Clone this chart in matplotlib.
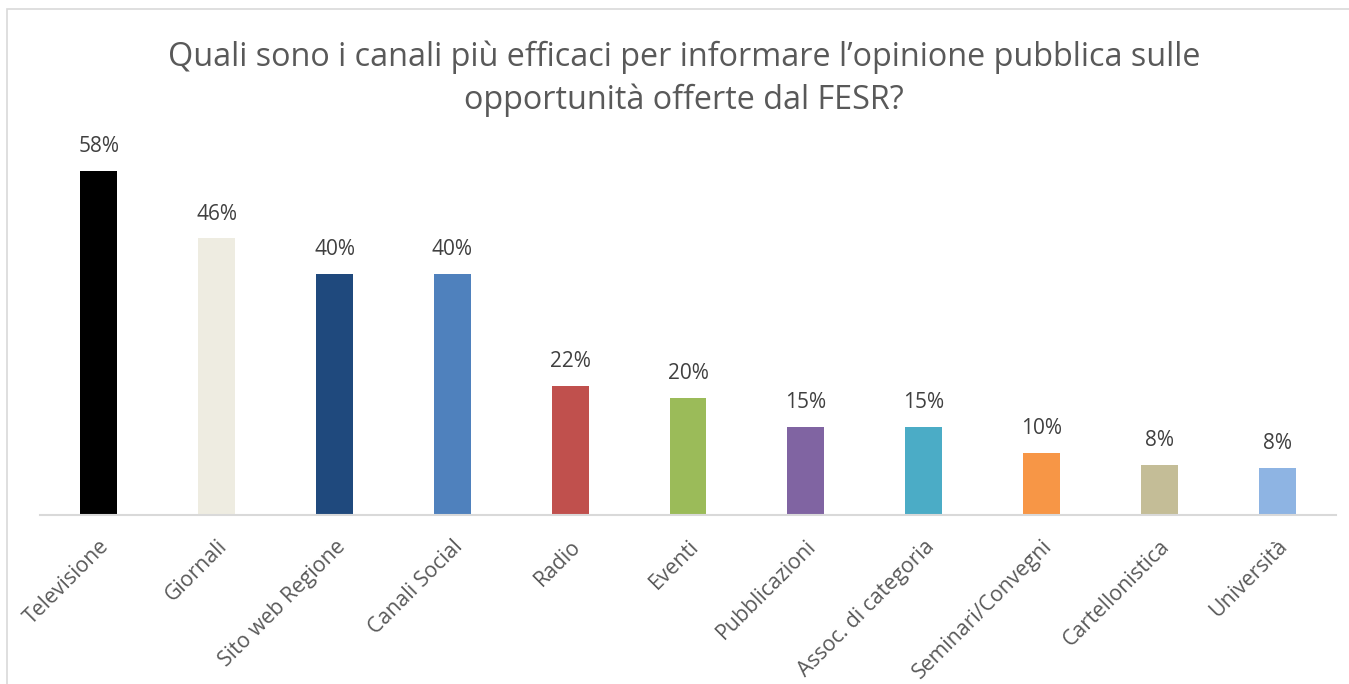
import matplotlib
matplotlib.use("Agg")
import matplotlib.pyplot as plt
from matplotlib.patches import Rectangle

categories = ["Televisione", "Giornali", "Sito web Regione", "Canali Social", "Radio",
              "Eventi", "Pubblicazioni", "Assoc. di categoria", "Seminari/Convegni",
              "Cartellonistica", "Università"]
values = [57.7, 46.4, 40.4, 40.4, 21.6, 19.7, 14.8, 14.8, 10.4, 8.4, 7.9]
colors = ["#000000", "#EEECE1", "#1F497D", "#4F81BD", "#C0504D", "#9BBB59",
          "#8064A2", "#4BACC6", "#F79646", "#C4BD97", "#8EB4E3"]
title = "Quali sono i canali più efficaci per informare l’opinione pubblica sulle\nopportunità offerte dal FESR?"

plt.rcParams['font.family'] = ['Open Sans', 'DejaVu Sans']

W, H = 1349, 684
fig = plt.figure(figsize=(W / 100, H / 100), dpi=100)
fig.patch.set_facecolor("white")

# outer border (light gray, left and top visible)
fig.add_artist(Rectangle((7 / W, -0.1), 1.2, (H - 9) / H + 0.1, transform=fig.transFigure,
                         fill=False, edgecolor="#D9D9D9", linewidth=1.2))

ax_left = 40 / W
ax_w = 1296 / W
base_y = (H - 515) / H
ymax = 60
ax_h = ymax * 5.96 / H
ax = fig.add_axes([ax_left, base_y, ax_w, ax_h])

x = range(len(categories))
ax.bar(x, values, width=0.314, color=colors)
ax.set_xlim(-0.5, len(categories) - 0.5)
ax.set_ylim(0, ymax)

for xi, v in zip(x, values):
    ax.annotate(f"{round(v)}%", (xi, v), xytext=(0, 10), textcoords="offset points",
                ha="center", va="bottom", fontsize=15, color="#404040")

for s in ["top", "right", "left"]:
    ax.spines[s].set_visible(False)
ax.spines["bottom"].set_color("#D9D9D9")
ax.spines["bottom"].set_linewidth(1.5)
ax.set_yticks([])
ax.set_xticks(list(x))
ax.set_xticklabels(categories, rotation=45, ha="right", va="top",
                   rotation_mode="anchor", fontsize=15.3, color="#595959")
ax.tick_params(axis="x", length=0, pad=15)

fig.text(684 / W, 1 - 79 / H, title, ha="center", va="center", fontsize=23.3,
         color="#595959", linespacing=1.38)

fig.savefig("out.png", dpi=100)
